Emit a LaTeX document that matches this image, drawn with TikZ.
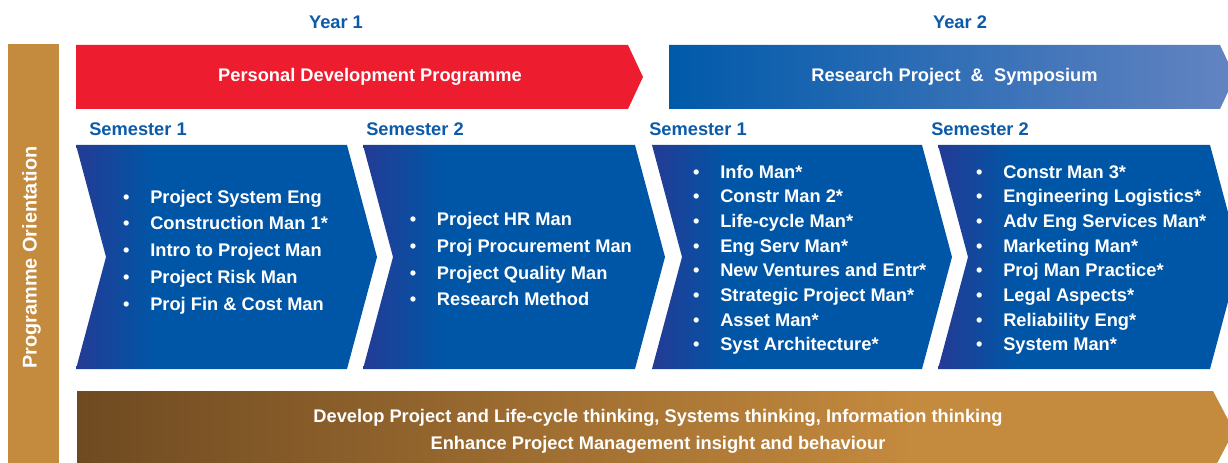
\documentclass[tikz,border=0pt]{standalone}
\usepackage{fontspec}
\setmainfont{Liberation Sans}
\usepackage{tikz}

\definecolor{pdpRed}{HTML}{ED1C2E}
\definecolor{rspLeft}{HTML}{005AAA}
\definecolor{rspRight}{HTML}{6484C2}
\definecolor{chevL}{HTML}{243B95}
\definecolor{chevR}{HTML}{0056A6}
\definecolor{orientL}{HTML}{6F4A21}
\definecolor{orientR}{HTML}{C48A3E}
\definecolor{headBlue}{HTML}{0C5AAA}

\pgfdeclarehorizontalshading{chevshade}{100bp}{color(0bp)=(chevL); color(25bp)=(chevL); color(38bp)=(chevR); color(100bp)=(chevR)}
\pgfdeclarehorizontalshading{orientshade}{100bp}{color(0bp)=(orientL); color(25bp)=(orientL); color(61bp)=(orientR); color(100bp)=(orientR)}

\begin{document}
\begin{tikzpicture}[x=0.75pt,y=-0.75pt,
    txt/.style={font=\bfseries\fontsize{13.7}{16}\selectfont,inner sep=0pt},
    head/.style={txt,text=headBlue,anchor=base},
    sem label/.style={txt,text=headBlue,anchor=base west},
    banner text/.style={txt,text=white,anchor=base},
    item/.style={txt,text=white,anchor=base west,execute at begin node={\llap{\textbullet\hspace{15.6pt}}}}]
  \useasboundingbox (0,0) rectangle (1228,463);
  \clip (0,0) rectangle (1228,463);

  % side bar
  \fill[orientR] (7.5,44) rectangle (59,470);
  \node[txt,text=white,rotate=90,anchor=base,font=\bfseries\fontsize{14.9}{17}\selectfont] (orient) at (36.7,257.5) {Programme Orientation};

  % year banners
  \fill[pdpRed] (76,45) -- (628,45) -- (643,77) -- (628,109) -- (76,109) -- cycle;
  \shade[left color=rspLeft,right color=rspRight] (669,45) -- (1220,45) -- (1235,77) -- (1220,109) -- (669,109) -- cycle;
  \node[head] (year1) at (336,28.3) {Year 1};
  \node[head] (year2) at (960,28.3) {Year 2};
  \node[banner text] (pdp) at (370,82) {Personal Development Programme};
  \node[banner text] (rsp) at (954.5,82) {Research Project~ \&~ Symposium};

  % semester chevrons
  \foreach \l/\r in {76/347,363/635,652/922,938/1210}
    \shade[shading=chevshade] (\l,145) -- (\r,145) -- (\r+30,257) -- (\r,369) -- (\l,369) -- (\l+30,257) -- cycle;
  \node[sem label] (sem1) at (89,136) {Semester 1};
  \node[sem label] (sem2) at (366,136) {Semester 2};
  \node[sem label] (sem3) at (649,136) {Semester 1};
  \node[sem label] (sem4) at (931,136) {Semester 2};

  \foreach \t [count=\i] in {Project System Eng,Construction Man 1*,Intro to Project Man,Project Risk Man,Proj Fin \& Cost Man}
    \node[item] (a\i) at (150,{203.3+26.7*(\i-1)}) {\t};
  \foreach \t [count=\i] in {Project HR Man,Proj Procurement Man,Project Quality Man,Research Method}
    \node[item] (b\i) at (436.7,{225.7+26.7*(\i-1)}) {\t};
  \foreach \t [count=\i] in {Info Man*,Constr Man 2*,Life-cycle Man*,Eng Serv Man*,New Ventures and Entr*,Strategic Project Man*,Asset Man*,Syst Architecture*}
    \node[item] (c\i) at (720,{178.3+24.67*(\i-1)}) {\t};
  \foreach \t [count=\i] in {Constr Man 3*,Engineering Logistics*,Adv Eng Services Man*,Marketing Man*,Proj Man Practice*,Legal Aspects*,Reliability Eng*,System Man*}
    \node[item] (d\i) at (1003,{178.3+24.67*(\i-1)}) {\t};

  % bottom arrow
  \shade[shading=orientshade] (77,391) -- (1213,391) -- (1234,431) -- (1213,471) -- (77,471) -- cycle;
  \node[banner text] (goal1) at (658,422.3) {Develop Project and Life-cycle thinking, Systems thinking, Information thinking};
  \node[banner text] (goal2) at (658,449) {Enhance Project Management insight and behaviour};
\end{tikzpicture}
\end{document}
